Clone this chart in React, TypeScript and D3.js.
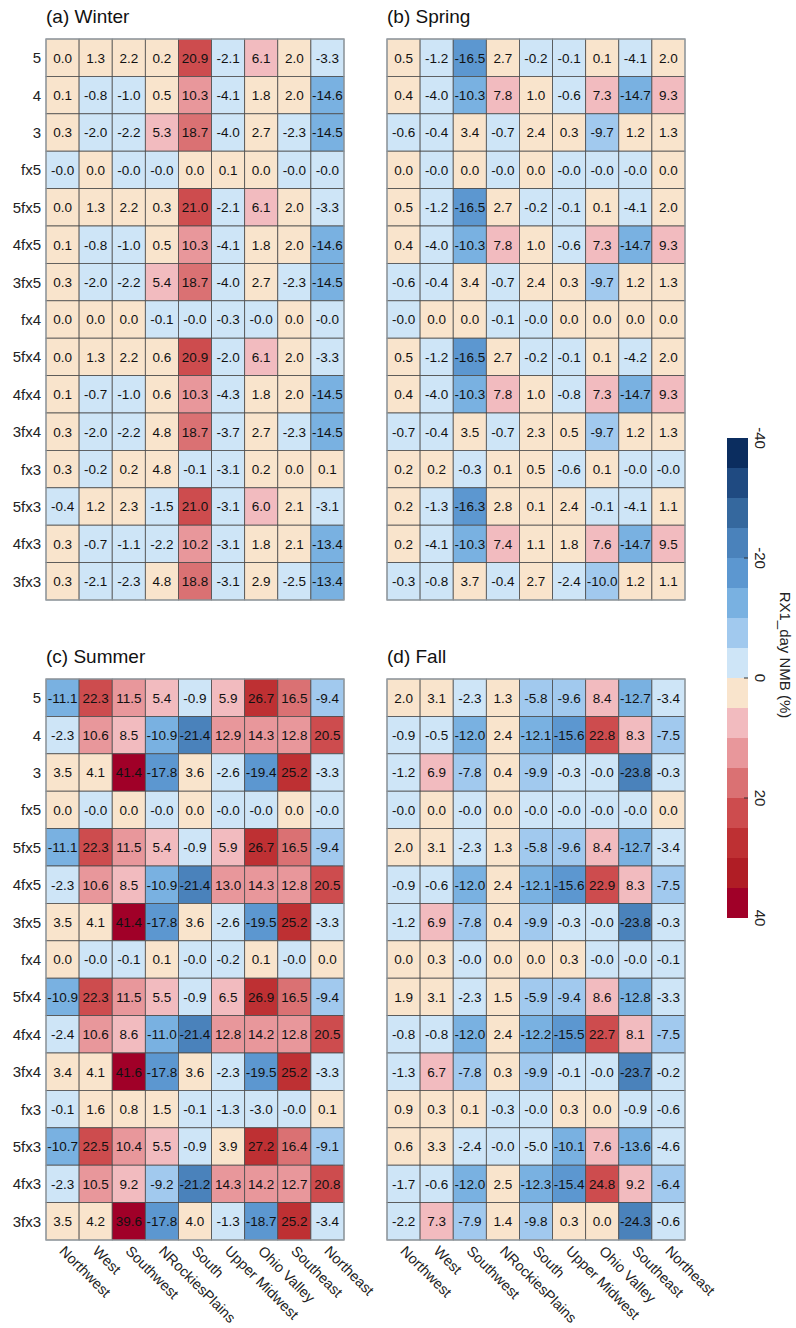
import React from "react";
import * as d3 from "d3";

const regions = ["Northwest", "West", "Southwest", "NRockiesPlains", "South", "Upper Midwest", "Ohio Valley", "Southeast", "Northeast"];
const experiments = ["5", "4", "3", "fx5", "5fx5", "4fx5", "3fx5", "fx4", "5fx4", "4fx4", "3fx4", "fx3", "5fx3", "4fx3", "3fx3"];
const panelTitles = ["(a) Winter", "(b) Spring", "(c) Summer", "(d) Fall"];

const winter = [
  [0.0, 1.3, 2.2, 0.2, 20.9, -2.1, 6.1, 2.0, -3.3],
  [0.1, -0.8, -1.0, 0.5, 10.3, -4.1, 1.8, 2.0, -14.6],
  [0.3, -2.0, -2.2, 5.3, 18.7, -4.0, 2.7, -2.3, -14.5],
  [-0.0, 0.0, -0.0, -0.0, 0.0, 0.1, 0.0, -0.0, -0.0],
  [0.0, 1.3, 2.2, 0.3, 21.0, -2.1, 6.1, 2.0, -3.3],
  [0.1, -0.8, -1.0, 0.5, 10.3, -4.1, 1.8, 2.0, -14.6],
  [0.3, -2.0, -2.2, 5.4, 18.7, -4.0, 2.7, -2.3, -14.5],
  [0.0, 0.0, 0.0, -0.1, -0.0, -0.3, -0.0, 0.0, -0.0],
  [0.0, 1.3, 2.2, 0.6, 20.9, -2.0, 6.1, 2.0, -3.3],
  [0.1, -0.7, -1.0, 0.6, 10.3, -4.3, 1.8, 2.0, -14.5],
  [0.3, -2.0, -2.2, 4.8, 18.7, -3.7, 2.7, -2.3, -14.5],
  [0.3, -0.2, 0.2, 4.8, -0.1, -3.1, 0.2, 0.0, 0.1],
  [-0.4, 1.2, 2.3, -1.5, 21.0, -3.1, 6.0, 2.1, -3.1],
  [0.3, -0.7, -1.1, -2.2, 10.2, -3.1, 1.8, 2.1, -13.4],
  [0.3, -2.1, -2.3, 4.8, 18.8, -3.1, 2.9, -2.5, -13.4],
];

const spring = [
  [0.5, -1.2, -16.5, 2.7, -0.2, -0.1, 0.1, -4.1, 2.0],
  [0.4, -4.0, -10.3, 7.8, 1.0, -0.6, 7.3, -14.7, 9.3],
  [-0.6, -0.4, 3.4, -0.7, 2.4, 0.3, -9.7, 1.2, 1.3],
  [0.0, -0.0, 0.0, -0.0, 0.0, -0.0, -0.0, -0.0, 0.0],
  [0.5, -1.2, -16.5, 2.7, -0.2, -0.1, 0.1, -4.1, 2.0],
  [0.4, -4.0, -10.3, 7.8, 1.0, -0.6, 7.3, -14.7, 9.3],
  [-0.6, -0.4, 3.4, -0.7, 2.4, 0.3, -9.7, 1.2, 1.3],
  [-0.0, 0.0, 0.0, -0.1, -0.0, 0.0, 0.0, 0.0, 0.0],
  [0.5, -1.2, -16.5, 2.7, -0.2, -0.1, 0.1, -4.2, 2.0],
  [0.4, -4.0, -10.3, 7.8, 1.0, -0.8, 7.3, -14.7, 9.3],
  [-0.7, -0.4, 3.5, -0.7, 2.3, 0.5, -9.7, 1.2, 1.3],
  [0.2, 0.2, -0.3, 0.1, 0.5, -0.6, 0.1, -0.0, -0.0],
  [0.2, -1.3, -16.3, 2.8, 0.1, 2.4, -0.1, -4.1, 1.1],
  [0.2, -4.1, -10.3, 7.4, 1.1, 1.8, 7.6, -14.7, 9.5],
  [-0.3, -0.8, 3.7, -0.4, 2.7, -2.4, -10.0, 1.2, 1.1],
];

const summer = [
  [-11.1, 22.3, 11.5, 5.4, -0.9, 5.9, 26.7, 16.5, -9.4],
  [-2.3, 10.6, 8.5, -10.9, -21.4, 12.9, 14.3, 12.8, 20.5],
  [3.5, 4.1, 41.4, -17.8, 3.6, -2.6, -19.4, 25.2, -3.3],
  [0.0, -0.0, 0.0, -0.0, 0.0, -0.0, -0.0, 0.0, -0.0],
  [-11.1, 22.3, 11.5, 5.4, -0.9, 5.9, 26.7, 16.5, -9.4],
  [-2.3, 10.6, 8.5, -10.9, -21.4, 13.0, 14.3, 12.8, 20.5],
  [3.5, 4.1, 41.4, -17.8, 3.6, -2.6, -19.5, 25.2, -3.3],
  [0.0, -0.0, -0.1, 0.1, -0.0, -0.2, 0.1, -0.0, 0.0],
  [-10.9, 22.3, 11.5, 5.5, -0.9, 6.5, 26.9, 16.5, -9.4],
  [-2.4, 10.6, 8.6, -11.0, -21.4, 12.8, 14.2, 12.8, 20.5],
  [3.4, 4.1, 41.6, -17.8, 3.6, -2.3, -19.5, 25.2, -3.3],
  [-0.1, 1.6, 0.8, 1.5, -0.1, -1.3, -3.0, -0.0, 0.1],
  [-10.7, 22.5, 10.4, 5.5, -0.9, 3.9, 27.2, 16.4, -9.1],
  [-2.3, 10.5, 9.2, -9.2, -21.2, 14.3, 14.2, 12.7, 20.8],
  [3.5, 4.2, 39.6, -17.8, 4.0, -1.3, -18.7, 25.2, -3.4],
];

const fall = [
  [2.0, 3.1, -2.3, 1.3, -5.8, -9.6, 8.4, -12.7, -3.4],
  [-0.9, -0.5, -12.0, 2.4, -12.1, -15.6, 22.8, 8.3, -7.5],
  [-1.2, 6.9, -7.8, 0.4, -9.9, -0.3, -0.0, -23.8, -0.3],
  [-0.0, 0.0, -0.0, 0.0, -0.0, -0.0, -0.0, -0.0, 0.0],
  [2.0, 3.1, -2.3, 1.3, -5.8, -9.6, 8.4, -12.7, -3.4],
  [-0.9, -0.6, -12.0, 2.4, -12.1, -15.6, 22.9, 8.3, -7.5],
  [-1.2, 6.9, -7.8, 0.4, -9.9, -0.3, -0.0, -23.8, -0.3],
  [0.0, 0.3, -0.0, 0.0, 0.0, 0.3, -0.0, -0.0, -0.1],
  [1.9, 3.1, -2.3, 1.5, -5.9, -9.4, 8.6, -12.8, -3.3],
  [-0.8, -0.8, -12.0, 2.4, -12.2, -15.5, 22.7, 8.1, -7.5],
  [-1.3, 6.7, -7.8, 0.3, -9.9, -0.1, -0.0, -23.7, -0.2],
  [0.9, 0.3, 0.1, -0.3, -0.0, 0.3, 0.0, -0.9, -0.6],
  [0.6, 3.3, -2.4, -0.0, -5.0, -10.1, 7.6, -13.6, -4.6],
  [-1.7, -0.6, -12.0, 2.5, -12.3, -15.4, 24.8, 9.2, -6.4],
  [-2.2, 7.3, -7.9, 1.4, -9.8, 0.3, 0.0, -24.3, -0.6],
];

const seasons = [winter, spring, summer, fall];

const binEdges = [-35, -30, -25, -20, -15, -10, -5, 0, 5, 10, 15, 20, 25, 30, 35];
const binColors = [
  "#0b2d5f", "#1f4a81", "#35689e", "#4a82bb", "#5c97d0", "#79b1e1", "#a1c9ee", "#cee5f7",
  "#f9e4cc", "#f2bbbf", "#e8979b", "#da7173", "#cd4c4e", "#be3033", "#b01d25", "#a00028",
];
const colorbarTicks = [-40, -20, 0, 20, 40];
const colorbarDomain = [-40, 40];

const FONT = "'Liberation Sans', Arial, Helvetica, sans-serif";

const W = 796;
const H = 1328;
const panelX = [46, 387];
const panelY = [39, 679];
const panelW = 298;
const panelH = 561;

const color = d3.scaleThreshold<number, string>().domain(binEdges).range(binColors);

const isNeg = (v: number) => v < 0 || Object.is(v, -0);
const fmt = (v: number) => (isNeg(v) ? "-" : "") + Math.abs(v).toFixed(1);
const colorOf = (v: number) => color(Object.is(v, -0) ? -1e-9 : v);

function Panel({ data, title, x0, y0, showX }: { data: number[][]; title: string; x0: number; y0: number; showX: boolean }) {
  const xs = d3.scaleBand<string>().domain(regions).range([x0, x0 + panelW]);
  const ys = d3.scaleBand<string>().domain(experiments).range([y0, y0 + panelH]);
  const bw = xs.bandwidth();
  const bh = ys.bandwidth();
  const showY = x0 === panelX[0];
  return (
    <g>
      <text x={x0} y={y0 - 16} fontSize={19} fontFamily={FONT} fill="#111">
        {title}
      </text>
      {data.map((row, i) =>
        row.map((v, j) => (
          <rect
            key={`r${i}-${j}`}
            x={xs(regions[j])}
            y={ys(experiments[i])}
            width={bw}
            height={bh}
            fill={colorOf(v)}
            stroke="#4d4d4d"
            strokeWidth={0.8}
          />
        ))
      )}
      <rect x={x0} y={y0} width={panelW} height={panelH} fill="none" stroke="#9aa3ab" strokeWidth={1.2} />
      {data.map((row, i) =>
        row.map((v, j) => (
          <text
            key={`t${i}-${j}`}
            x={(xs(regions[j]) as number) + bw / 2}
            y={(ys(experiments[i]) as number) + bh / 2}
            dy="0.36em"
            textAnchor="middle"
            fontSize={13.5}
            fontFamily={FONT}
            fill="#111"
          >
            {fmt(v)}
          </text>
        ))
      )}
      {showY &&
        experiments.map((e) => (
          <text
            key={`y${e}`}
            x={x0 - 5}
            y={(ys(e) as number) + bh / 2}
            dy="0.36em"
            textAnchor="end"
            fontSize={15}
            fontFamily={FONT}
            fill="#222"
          >
            {e}
          </text>
        ))}
      {showX &&
        regions.map((r) => {
          const cx = (xs(r) as number) + bw / 2 - 4;
          const cy = y0 + panelH + 12;
          return (
            <text
              key={`x${r}`}
              transform={`translate(${cx},${cy}) rotate(45)`}
              textAnchor="start"
              fontSize={14.5}
              fontFamily={FONT}
              fill="#222"
            >
              {r}
            </text>
          );
        })}
    </g>
  );
}

function Colorbar() {
  const x0 = 727;
  const bw = 21;
  const cy = d3.scaleLinear().domain(colorbarDomain).range([438, 918]);
  const edges = [colorbarDomain[0], ...binEdges, colorbarDomain[1]];
  return (
    <g>
      {binColors.map((c, i) => (
        <rect key={`cb${i}`} x={x0} y={cy(edges[i])} width={bw} height={cy(edges[i + 1]) - cy(edges[i])} fill={c} />
      ))}
      {colorbarTicks.map((t) => (
        <g key={`ct${t}`}>
          {t > colorbarDomain[0] && t < colorbarDomain[1] && (
            <line x1={x0 + bw - 4} x2={x0 + bw} y1={cy(t)} y2={cy(t)} stroke="#333" strokeWidth={1} />
          )}
          <text
            transform={`translate(${x0 + bw + 7},${cy(t)}) rotate(90)`}
            textAnchor="middle"
            fontSize={15}
            fontFamily={FONT}
            fill="#222"
          >
            {t}
          </text>
        </g>
      ))}
      <text
        transform={`translate(${780},${655}) rotate(90)`}
        textAnchor="middle"
        fontSize={15}
        fontFamily={FONT}
        fill="#222"
      >
        RX1_day NMB (%)
      </text>
    </g>
  );
}

export default function App() {
  return (
    <svg width={W} height={H} style={{ position: "absolute", left: 0, top: 0, background: "#fff" }}>
      <rect x={0} y={0} width={W} height={H} fill="#fff" />
      {seasons.map((d, k) => (
        <Panel
          key={panelTitles[k]}
          data={d}
          title={panelTitles[k]}
          x0={panelX[k % 2]}
          y0={panelY[Math.floor(k / 2)]}
          showX={k >= 2}
        />
      ))}
      <Colorbar />
    </svg>
  );
}
